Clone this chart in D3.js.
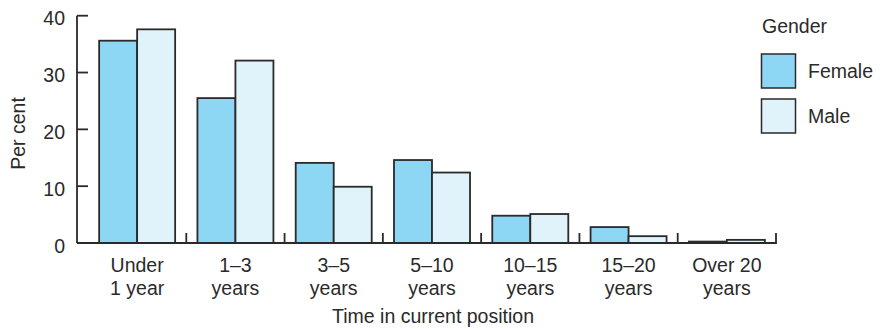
<!DOCTYPE html>
<html><head><meta charset="utf-8">
<script src="https://cdn.jsdelivr.net/npm/d3@7"></script>
<style>body{margin:0;background:#fff}text{font-family:"Liberation Sans",Arial,sans-serif;fill:#2a2a2a}</style>
</head><body><svg id="c" width="883" height="329"></svg>
<script>
const categories = [["Under","1 year"],["1–3","years"],["3–5","years"],["5–10","years"],["10–15","years"],["15–20","years"],["Over 20","years"]];
const female = [35.6, 25.5, 14.1, 14.6, 4.8, 2.8, 0.25];
const male = [37.6, 32.1, 9.9, 12.4, 5.1, 1.2, 0.55];
const yTicks = [0, 10, 20, 30, 40];
const seriesNames = ["Female", "Male"];
const colors = ["#8dd7f5", "#e0f3fb"];

const svg = d3.select("#c");
const FS = 19.5;
function txt(xx, yy, s, anchor, rot) {
  return svg.append("text")
    .attr("transform", `translate(${xx},${yy})${rot ? " rotate(" + rot + ")" : ""}`)
    .attr("text-anchor", anchor || "start").attr("font-size", FS).text(s);
}
const x0 = 77, bandL = 88, bandR = 776, y0 = 243, yTop = 15.7;
const x = d3.scaleBand().domain(d3.range(categories.length)).range([bandL, bandR]).paddingInner(0).paddingOuter(0);
const y = d3.scaleLinear().domain([0, 40]).range([y0, yTop]);
const sub = d3.scaleBand().domain([0,1]).range([0, x.bandwidth()]).paddingOuter(0.293).paddingInner(0);

const g = svg.append("g");
const data = categories.map((c,i)=>[female[i], male[i]]);
data.forEach((vals,i)=>{
  vals.forEach((v,s)=>{
    g.append("rect").attr("x", x(i)+sub(s)).attr("y", y(v)).attr("width", sub.bandwidth()).attr("height", y0 - y(v))
      .attr("fill", colors[s]).attr("stroke", "#2a2a2a").attr("stroke-width", 1.8);
  });
});
const ax = svg.append("g").attr("stroke", "#2a2a2a").attr("stroke-width", 1.8).attr("fill","none");
ax.append("line").attr("x1", x0).attr("x2", x0).attr("y1", yTop).attr("y2", y0);
ax.append("line").attr("x1", x0).attr("x2", bandR+0.9).attr("y1", y0).attr("y2", y0);
yTicks.forEach(t=>{
  ax.append("line").attr("x1", x0).attr("x2", x0+11).attr("y1", y(t)).attr("y2", y(t));
});
d3.range(1, categories.length+1).forEach(i=>{
  const xx = i < categories.length ? x(i) : bandR;
  ax.append("line").attr("x1", xx).attr("x2", xx).attr("y1", y0).attr("y2", y0-10);
});
yTicks.forEach(t=>{ txt(65, y(t)+9.5, t, "end"); });
categories.forEach((c,i)=>{
  const cx = x(i) + x.bandwidth()/2;
  c.forEach((line,k)=>{ txt(cx, 272 + k*23, line, "middle"); });
});
txt(433, 323, "Time in current position", "middle");
txt(25, 133.5, "Per cent", "middle", -90);
txt(762, 32.5, "Gender");
seriesNames.forEach((n,s)=>{
  const yy = 54 + s*45;
  svg.append("rect").attr("x", 761.5).attr("y", yy).attr("width", 34).attr("height", 34).attr("fill", colors[s]).attr("stroke","#2a2a2a").attr("stroke-width",1.5);
  txt(808, yy+24, n);
});
</script></body></html>
